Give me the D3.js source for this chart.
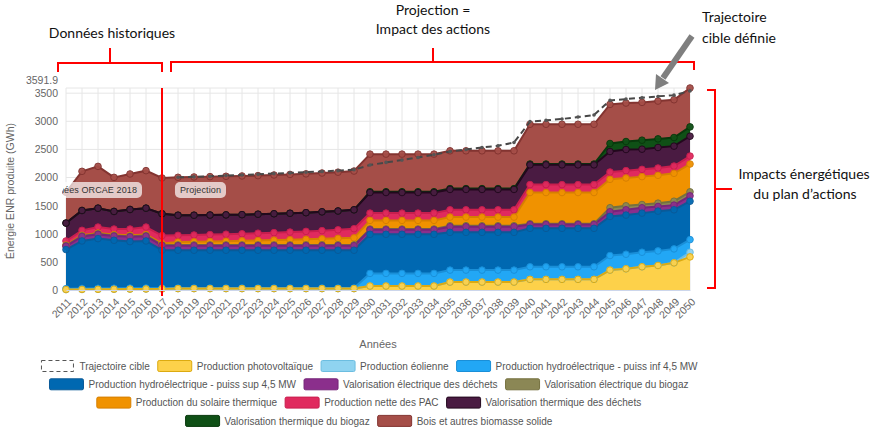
<!DOCTYPE html>
<html>
<head>
<meta charset="utf-8">
<script src="https://cdn.jsdelivr.net/npm/d3@7"></script>
<style>
  body { margin: 0; background: #fff; }
  svg text { font-family: "Liberation Sans", Arial, sans-serif; }
  .note { font-family: Lato, "Open Sans", sans-serif; font-size: 14px; fill: #111; }
</style>
</head>
<body>
<svg id="chart" width="891" height="446"></svg>
<script>
// categories
const years = [2011, 2012, 2013, 2014, 2015, 2016, 2017, 2018, 2019, 2020,
  2021, 2022, 2023, 2024, 2025, 2026, 2027, 2028, 2029, 2030,
  2031, 2032, 2033, 2034, 2035, 2036, 2037, 2038, 2039, 2040,
  2041, 2042, 2043, 2044, 2045, 2046, 2047, 2048, 2049, 2050];

// GWh per series
const trajectoire = [null, null, null, null, null, null, null,
  2004, 2012, 2022, 2035, 2045, 2058, 2070, 2082, 2095, 2108, 2122, 2140,
  2222, 2269, 2310, 2357, 2404, 2463, 2499, 2534, 2564, 2622,
  2994, 3017, 3041, 3076, 3112, 3371, 3395, 3418, 3442, 3465, 3540];
const photovoltaique = [8, 10, 12, 14, 16, 18, 20,
  25, 25, 25, 25, 25, 25, 25, 25, 25, 25, 25, 25,
  71, 71, 71, 71, 71, 141, 141, 141, 141, 141,
  189, 189, 189, 189, 189, 354, 377, 413, 436, 483, 589];
const eolienne = [0, 0, 0, 0, 0, 0, 0,
  0, 0, 0, 0, 0, 0, 0, 0, 0, 0, 0, 0,
  0, 0, 0, 0, 0, 0, 0, 0, 0, 0,
  0, 0, 0, 0, 0, 0, 0, 0, 0, 0, 83];
const hydroInf = [15, 18, 18, 18, 18, 18, 15,
  10, 10, 10, 10, 10, 10, 10, 10, 10, 10, 10, 10,
  224, 224, 224, 224, 224, 213, 213, 213, 213, 213,
  224, 224, 224, 224, 224, 259, 259, 259, 259, 248, 224];
const hydroSup = [696, 844, 884, 852, 827, 836, 672,
  672, 672, 672, 672, 672, 672, 672, 672, 672, 672, 672, 672,
  695, 695, 695, 695, 695, 671, 671, 671, 671, 671,
  683, 683, 683, 683, 683, 695, 696, 695, 707, 695, 683];
const elecDechets = [60, 80, 75, 75, 85, 85, 85,
  80, 80, 80, 80, 80, 80, 80, 80, 80, 80, 80, 80,
  80, 80, 80, 80, 80, 100, 100, 100, 100, 100,
  68, 68, 68, 68, 68, 83, 94, 95, 83, 83, 95];
const elecBiogaz = [10, 10, 10, 10, 10, 10, 10,
  15, 15, 15, 15, 15, 15, 15, 15, 15, 15, 15, 15,
  14, 14, 14, 14, 14, 18, 18, 18, 18, 18,
  15, 15, 15, 15, 15, 71, 71, 58, 59, 70, 71];
const solaireTherm = [10, 12, 14, 16, 18, 20, 25,
  50, 55, 60, 65, 72, 78, 85, 92, 100, 108, 116, 125,
  154, 154, 154, 154, 154, 154, 154, 154, 154, 154,
  554, 554, 554, 554, 554, 506, 495, 496, 495, 496, 495];
const pac = [73, 87, 106, 99, 110, 132, 140,
  120, 121, 123, 125, 126, 130, 133, 136, 140, 145, 152, 163,
  129, 129, 129, 129, 129, 129, 129, 129, 129, 129,
  141, 141, 141, 141, 141, 130, 130, 129, 130, 129, 141];
const thermDechets = [318, 353, 336, 313, 348, 336, 389,
  358, 352, 348, 344, 340, 338, 336, 335, 333, 335, 335, 336,
  366, 366, 366, 366, 366, 362, 362, 362, 362, 362,
  351, 351, 351, 351, 351, 365, 376, 359, 365, 354, 354];
const thermBiogaz = [0, 0, 0, 0, 0, 0, 0,
  0, 0, 0, 0, 0, 0, 0, 0, 0, 0, 0, 0,
  15, 15, 15, 15, 15, 15, 15, 15, 15, 15,
  15, 15, 15, 15, 15, 142, 142, 160, 153, 153, 165];
const bois = [548, 696, 743, 606, 631, 667, 636,
  674, 680, 683, 686, 688, 686, 689, 690, 690, 690, 690, 689,
  668, 668, 668, 668, 668, 672, 672, 672, 672, 672,
  707, 707, 707, 707, 707, 695, 684, 672, 672, 672, 691.9];

const yTicks = [0, 500, 1000, 1500, 2000, 2500, 3000, 3500];
const yMax = 3591.9;

const series = [
  { key: "pv",   name: "Production photovoltaïque", values: photovoltaique, color: "#fdd14a", line: "#dcaa10" },
  { key: "eol",  name: "Production éolienne", values: eolienne, color: "#8fd3f0", line: "#6cbde0" },
  { key: "hyi",  name: "Production hydroélectrique - puiss inf 4,5 MW", values: hydroInf, color: "#22a7f5", line: "#1a8fd8" },
  { key: "hys",  name: "Production hydroélectrique - puiss sup 4,5 MW", values: hydroSup, color: "#0068b1", line: "#0a5a98" },
  { key: "eld",  name: "Valorisation électrique des déchets", values: elecDechets, color: "#8b2f8c", line: "#752479" },
  { key: "elb",  name: "Valorisation électrique du biogaz", values: elecBiogaz, color: "#8b8755", line: "#75713f" },
  { key: "sol",  name: "Production du solaire thermique", values: solaireTherm, color: "#f09200", line: "#d67f00" },
  { key: "pac",  name: "Production nette des PAC", values: pac, color: "#e02a5e", line: "#c81e4e" },
  { key: "thd",  name: "Valorisation thermique des déchets", values: thermDechets, color: "#4a1b42", line: "#22081d" },
  { key: "thb",  name: "Valorisation thermique du biogaz", values: thermBiogaz, color: "#0f5016", line: "#08380c" },
  { key: "bois", name: "Bois et autres biomasse solide", values: bois, color: "#a54e48", line: "#833431" }
];

const legendRows = [
  ["traj", "pv", "eol", "hyi"],
  ["hys", "eld", "elb"],
  ["sol", "pac", "thd"],
  ["thb", "bois"]
];

const rows = years.map((yr, i) => {
  const r = { year: yr };
  series.forEach(s => r[s.key] = s.values[i]);
  return r;
});
const stacked = d3.stack().keys(series.map(s => s.key))(rows);

const svg = d3.select("#chart");
const plot = { left: 66, right: 690, top: 88, bottom: 290 };

const x = d3.scaleLinear().domain([2011, 2050]).range([plot.left, plot.right]);
const y = d3.scaleLinear().domain([0, yMax]).range([plot.bottom, plot.top]);

// grid
svg.append("g").selectAll("line").data(years).join("line")
  .attr("x1", d => x(d)).attr("x2", d => x(d))
  .attr("y1", plot.top).attr("y2", plot.bottom)
  .attr("stroke", "#e6e6e6");
svg.append("g").selectAll("line").data(yTicks.concat([yMax])).join("line")
  .attr("x1", plot.left).attr("x2", plot.right)
  .attr("y1", d => y(d)).attr("y2", d => y(d))
  .attr("stroke", "#e6e6e6");

// areas
const area = d3.area().x(d => x(d.data.year)).y0(d => y(d[0])).y1(d => y(d[1]));
const line = d3.line().x(d => x(d.data.year)).y(d => y(d[1]));

svg.append("g").selectAll("path").data(stacked).join("path")
  .attr("d", area)
  .attr("fill", (d, i) => series[i].color);

// lines and markers, top series first so the lower ones stay visible
const topDown = stacked.map((layer, i) => ({ layer, s: series[i] })).reverse();
topDown.forEach(({ layer, s }) => {
  svg.append("path").datum(layer)
    .attr("d", line)
    .attr("fill", "none")
    .attr("stroke", s.line)
    .attr("stroke-width", 2);
});
topDown.forEach(({ layer, s }) => {
  svg.append("g").selectAll("circle").data(layer).join("circle")
    .attr("cx", d => x(d.data.year))
    .attr("cy", d => y(d[1]))
    .attr("r", 3.3)
    .attr("fill", s.color)
    .attr("stroke", s.line)
    .attr("stroke-width", 1)
    .attr("opacity", 0.95);
});

// target trajectory
const trajData = years.map((yr, i) => ({ year: yr, v: trajectoire[i] }));
svg.append("path")
  .datum(trajData)
  .attr("d", d3.line().defined(d => d.v != null).x(d => x(d.year)).y(d => y(d.v)))
  .attr("fill", "none")
  .attr("stroke", "#474747")
  .attr("stroke-width", 2)
  .attr("stroke-dasharray", "6,4");
svg.append("g").selectAll("circle").data(trajData.filter(d => d.v != null)).join("circle")
  .attr("cx", d => x(d.year)).attr("cy", d => y(d.v))
  .attr("r", 1.8).attr("fill", "#555");

// plot band labels
svg.append("clipPath").attr("id", "plotClip")
  .append("rect").attr("x", plot.left - 3).attr("y", plot.top).attr("width", plot.right - plot.left + 6).attr("height", plot.bottom - plot.top);
const bandLabels = svg.append("g").attr("clip-path", "url(#plotClip)");
[{ text: "Données ORCAE 2018", end: 137 }, { text: "Projection", end: x(2018) + 43 }].forEach(b => {
  const t = bandLabels.append("text")
    .attr("x", b.end).attr("y", 193)
    .attr("text-anchor", "end")
    .attr("font-size", 9)
    .attr("letter-spacing", 0.1)
    .attr("fill", "#333")
    .text(b.text);
  const bb = t.node().getBBox();
  bandLabels.insert("rect", "text")
    .attr("x", bb.x - 5).attr("y", 182)
    .attr("width", bb.width + 10).attr("height", 16)
    .attr("rx", 5)
    .attr("fill", "#fff").attr("fill-opacity", 0.7);
});

// red separator
svg.append("line")
  .attr("x1", x(2017)).attr("x2", x(2017))
  .attr("y1", plot.top).attr("y2", plot.bottom + 6)
  .attr("stroke", "#ff0000").attr("stroke-width", 2);

// axes
const yAxis = svg.append("g")
  .attr("transform", `translate(${plot.left - 8},0)`)
  .call(d3.axisLeft(y).tickValues(yTicks.concat([yMax])).tickSize(0).tickPadding(0)
    .tickFormat(d => d === yMax ? "3591.9" : d));
yAxis.select(".domain").remove();
yAxis.selectAll("text").attr("font-size", 10.5).attr("fill", "#666")
  .attr("dy", d => d === yMax ? "-0.4em" : "0.32em");

const xAxis = svg.append("g")
  .attr("transform", `translate(0,${plot.bottom})`)
  .call(d3.axisBottom(x).tickValues(years).tickFormat(d3.format("d")).tickSize(0));
xAxis.select(".domain").attr("stroke", "#ccd6eb");
xAxis.selectAll("text")
  .attr("font-size", 10.5).attr("fill", "#666")
  .attr("x", 0).attr("y", 0).attr("dy", "0.35em")
  .attr("text-anchor", "end")
  .attr("transform", "translate(3,10) rotate(-45)");

svg.append("text")
  .attr("transform", `translate(14,${(plot.top + plot.bottom) / 2 + 2}) rotate(-90)`)
  .attr("text-anchor", "middle")
  .attr("font-size", 10.5).attr("fill", "#666")
  .text("Énergie ENR produite (GWh)");

svg.append("text")
  .attr("x", (plot.left + plot.right) / 2).attr("y", 348)
  .attr("text-anchor", "middle")
  .attr("font-size", 11).attr("fill", "#666")
  .text("Années");

// legend
const byKey = {};
series.forEach(s => byKey[s.key] = s);
byKey.traj = { name: "Trajectoire cible", dashed: true };
const legendY = [366, 384.3, 402.6, 420.9];
legendRows.forEach((row, ri) => {
  const g = svg.append("g");
  let cx = 0;
  row.forEach(k => {
    const item = byKey[k];
    if (item.dashed) {
      g.append("rect").attr("x", cx + 1).attr("y", legendY[ri] - 5.5).attr("width", 32).attr("height", 11)
        .attr("fill", "none").attr("stroke", "#555").attr("stroke-dasharray", "4,3");
    } else {
      g.append("rect").attr("x", cx).attr("y", legendY[ri] - 5.5).attr("width", 34).attr("height", 11)
        .attr("rx", 1.5)
        .attr("fill", item.color).attr("stroke", item.line).attr("stroke-width", 1);
    }
    const t = g.append("text")
      .attr("x", cx + 39).attr("y", legendY[ri]).attr("dy", "0.35em")
      .attr("font-size", 11).attr("fill", "#555")
      .text(item.name);
    const w = t.node().getComputedTextLength() * 0.91;
    t.attr("textLength", w).attr("lengthAdjust", "spacingAndGlyphs");
    cx += 39 + w + 8;
  });
  const width = cx - 8;
  g.attr("transform", `translate(${369 - width / 2},0)`);
});

// annotations drawn over the chart
const red = "#ff0000";
svg.append("path").attr("d", "M58,72 L58,63 L162,63 L162,72 M110,63 L110,48")
  .attr("fill", "none").attr("stroke", red).attr("stroke-width", 2);
svg.append("path").attr("d", "M171,72 L171,62 L694,62 L694,70 M433,62 L433,48")
  .attr("fill", "none").attr("stroke", red).attr("stroke-width", 2);
svg.append("path").attr("d", "M707,90 L715,90 L715,288 L707,288 M715,189 L732,189")
  .attr("fill", "none").attr("stroke", red).attr("stroke-width", 2);

svg.append("line").attr("x1", 692).attr("y1", 36).attr("x2", 663).attr("y2", 78)
  .attr("stroke", "#7f7f7f").attr("stroke-width", 6);
svg.append("path").attr("d", "M655,90 L669,83 L656,74 Z").attr("fill", "#7f7f7f");

const notes = [
  { x: 112, y: 38, text: "Données historiques", anchor: "middle" },
  { x: 433, y: 15, text: "Projection =", anchor: "middle" },
  { x: 433, y: 34, text: "Impact des actions", anchor: "middle" },
  { x: 702, y: 22, text: "Trajectoire", anchor: "start" },
  { x: 702, y: 43, text: "cible définie", anchor: "start" },
  { x: 804, y: 179, text: "Impacts énergétiques", anchor: "middle" },
  { x: 805, y: 199, text: "du plan d’actions", anchor: "middle" }
];
svg.append("g").selectAll("text").data(notes).join("text")
  .attr("class", "note")
  .attr("x", d => d.x).attr("y", d => d.y)
  .attr("text-anchor", d => d.anchor)
  .text(d => d.text);
</script>
</body>
</html>
